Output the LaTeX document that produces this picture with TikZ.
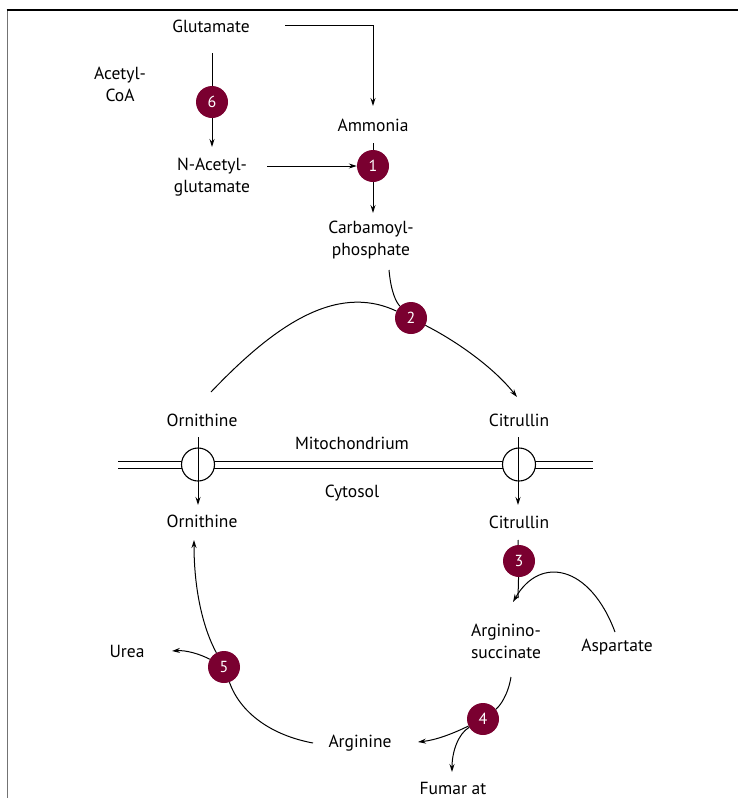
\documentclass[tikz,border=0pt]{standalone}
\usepackage{fontspec}
\setmainfont{PT Sans}
\usetikzlibrary{arrows.meta}
\definecolor{enz}{HTML}{7A0030}
\begin{document}
\begin{tikzpicture}[x=1pt,y=-1pt,
  lbl/.style={font=\fontsize{17.5}{22}\selectfont, align=center, inner sep=0pt},
  enzyme/.style={circle, fill=enz, minimum size=32pt, inner sep=0pt, text=white, font=\fontsize{16}{16}\selectfont},
  conn/.style={line width=1pt},
  arr/.style={conn, -{Stealth[length=8pt,width=5pt]}},
  chan/.style={circle, draw, fill=white, line width=1.1pt, minimum size=33pt, inner sep=0pt},
  memb/.style={line width=1pt}]
\useasboundingbox (0,0) rectangle (738,798);
% frame
\draw[black!55, line width=1.6pt] (7.5,10) -- (7.5,798);
\draw[line width=1.2pt] (6.7,10) -- (738,10);

% labels
\node[lbl] (glu) at (211,26) {Glutamate};
\node[lbl] (acoa) at (120,84) {Acetyl-\\CoA};
\node[enzyme] (e6) at (212,102) {6};
\node[lbl] (nag) at (212,177) {N-Acetyl-\\glutamate};
\node[lbl] (amm) at (373,125) {Ammonia};
\node[enzyme] (e1) at (373,166) {1};
\node[lbl] (cp) at (371,240) {Carbamoyl-\\phosphate};
\node[enzyme] (e2) at (411,318) {2};
\node[lbl] (ornM) at (202,420) {Ornithine};
\node[lbl] (citM) at (519,420) {Citrullin};
\node[lbl] (mito) at (352,443) {Mitochondrium};
\node[lbl] (cyto) at (352,493) {Cytosol};
\node[lbl] (ornC) at (202,521) {Ornithine};
\node[lbl] (citC) at (519,522) {Citrullin};
\node[enzyme] (e3) at (519,561) {3};
\node[lbl] (as) at (506,641) {Arginino-\\succinate};
\node[lbl] (asp) at (617,647) {Aspartate};
\node[enzyme] (e4) at (483,719) {4};
\node[lbl] (arg) at (360,743) {Arginine};
\node[lbl] (fum) at (453,788.5) {Fumar at};
\node[enzyme] (e5) at (224,667) {5};
\node[lbl] (urea) at (127,651) {Urea};

% free ends
\coordinate (g1) at (285,25);
\coordinate (a1) at (373,106);
\coordinate (v6a) at (212,53);
\coordinate (v6b) at (212,147);
\coordinate (n1) at (267,166);
\coordinate (am1) at (373,143);
\coordinate (cp1) at (373,213);
\coordinate (cp2) at (389,270);
\coordinate (o1) at (211,392);
\coordinate (c1) at (517,397);
\coordinate (oL1) at (198,437);
\coordinate (oL2) at (198,505);
\coordinate (cR1) at (518,437);
\coordinate (cR2) at (518,505);
\coordinate (c3a) at (518,540);
\coordinate (c3b) at (518,598);
\coordinate (asp1) at (615,632);
\coordinate (as1) at (513,602);
\coordinate (as2) at (511,677);
\coordinate (arg1) at (418,742);
\coordinate (fum1) at (452,772);
\coordinate (arg2) at (313,743);
\coordinate (orn1) at (194,540);
\coordinate (urea1) at (172,651);

% Glutamate -> Ammonia
\draw[arr] (g1) -| (a1);
% Glutamate -> NAG via 6
\draw[conn] (v6a) -- (e6);
\draw[arr] (e6) -- (v6b);
% NAG -> 1
\draw[arr] (n1) -- (e1.west);
% Ammonia -> 1 -> CP
\draw[conn] (am1) -- (e1);
\draw[arr] (e1) -- (cp1);
% CP -> 2
\draw[conn] (cp2) .. controls (391,292) and (396,302) .. (e2);
% Ornithine -> 2 -> Citrullin
\draw[conn] (o1) .. controls (272,328) and (335,282) .. (e2);
\draw[arr] (e2) .. controls (458,342) and (494,368) .. (c1);

% membrane
\draw[memb] (118,461) -- (593,461);
\draw[memb] (118,468) -- (593,468);
\node[chan] (chL) at (198,464.5) {};
\node[chan] (chR) at (519,464.5) {};
\draw[arr] (oL1) -- (oL2);
\draw[arr] (cR1) -- (cR2);

% Citrullin -> 3 -> Argininosuccinate
\draw[conn] (c3a) -- (e3);
\draw[conn] (e3) -- (c3b);
\draw[arr] (asp1) .. controls (590,565) and (540,555) .. (as1);

% Argininosuccinate -> 4
\draw[conn] (as2) .. controls (508,695) and (500,706) .. (e4);
\draw[arr] (e4) .. controls (452,734) and (436,740) .. (arg1);
\draw[arr] (e4) .. controls (458,734) and (452,752) .. (fum1);

% Arginine -> 5 -> Ornithine, Urea
\draw[conn] (arg2) .. controls (270,735) and (240,712) .. (e5);
\draw[arr] (e5) .. controls (203,628) and (194,590) .. (orn1);
\draw[arr] (e5) .. controls (200,654) and (186,650) .. (urea1);
\end{tikzpicture}
\end{document}
